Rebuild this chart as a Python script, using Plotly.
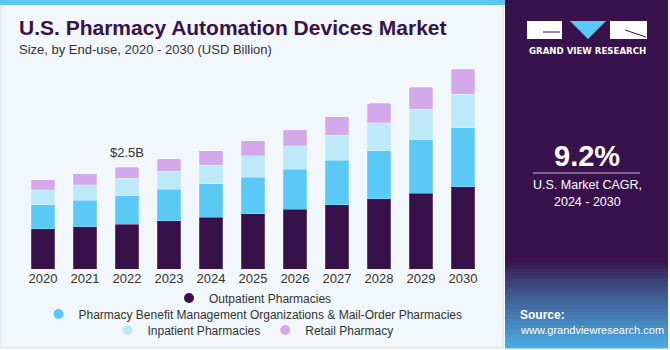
import plotly.graph_objects as go

years = ["2020", "2021", "2022", "2023", "2024", "2025", "2026", "2027", "2028", "2029", "2030"]
outpatient = [0.99, 1.03, 1.10, 1.18, 1.27, 1.36, 1.47, 1.58, 1.72, 1.86, 2.01]
pbm = [0.59, 0.66, 0.70, 0.77, 0.82, 0.89, 0.98, 1.08, 1.18, 1.31, 1.45]
inpatient = [0.36, 0.38, 0.42, 0.45, 0.45, 0.52, 0.57, 0.62, 0.68, 0.75, 0.82]
retail = [0.25, 0.27, 0.28, 0.30, 0.36, 0.37, 0.39, 0.45, 0.48, 0.54, 0.62]
series_names = ["Outpatient Pharmacies",
                "Pharmacy Benefit Management Organizations & Mail-Order Pharmacies",
                "Inpatient Pharmacies", "Retail Pharmacy"]
colors = ["#37114A", "#5BC9F5", "#BEE9F9", "#D3A9EB"]
callout_year = "2022"
callout_text = "$2.5B"

W, H = 670, 350
ML, MR, MT, MB = 22, 186, 65, 81
PW, PH = W - ML - MR, H - MT - MB
FONT = "Liberation Sans"


def px(x):
    return (x - ML) / PW


def py(y):
    return (H - MB - y) / PH


fig = go.Figure()
series = [outpatient, pbm, inpatient, retail]
for name, vals, col in zip(series_names, series, colors):
    fig.add_trace(go.Bar(x=years, y=vals, name=name, marker_color=col,
                         marker_line_width=0.6, marker_line_color="rgba(255,255,255,0.35)",
                         showlegend=False, hoverinfo="skip"))

legend_ids = ["legend", "legend2", "legend3", "legend3"]
for name, col, lg in zip(series_names, colors, legend_ids):
    fig.add_trace(go.Scatter(x=[years[0]], y=[None], mode="markers", name=name,
                             marker=dict(symbol="circle", size=10, color=col),
                             legend=lg, showlegend=True, hoverinfo="skip"))

totals = [sum(v) for v in zip(*series)]
ci = years.index(callout_year)
fig.add_annotation(x=ci, y=totals[ci], xref="x", yref="y", text=callout_text, showarrow=False,
                   yanchor="bottom", yshift=5, font=dict(family=FONT, size=13, color="#333333"))

shapes = []
# left panel
shapes.append(dict(type="rect", xref="paper", yref="paper", x0=px(1), x1=px(503), y0=py(1), y1=py(348),
                   fillcolor="#F2F7FB", line=dict(color="#D6DDE3", width=1), layer="below"))
shapes.append(dict(type="rect", xref="paper", yref="paper", x0=px(0), x1=px(506), y0=py(0), y1=py(5),
                   fillcolor="#5BC6EF", line=dict(width=0), layer="below"))
# right panel
shapes.append(dict(type="rect", xref="paper", yref="paper", x0=px(505), x1=px(668), y0=py(0), y1=py(348),
                   fillcolor="#38124A", line=dict(width=0), layer="below"))
# gradient bottom
c0 = (0x38, 0x12, 0x4A)
c1 = (0x4A, 0xAE, 0xE4)
n = 26
y_start, y_end = 262, 348
for i in range(n):
    t = (i + 0.5) / n
    tt = t ** 0.8
    c = tuple(int(c0[k] + (c1[k] - c0[k]) * tt) for k in range(3))
    ya = y_start + (y_end - y_start) * i / n
    yb = y_start + (y_end - y_start) * (i + 1) / n + 0.5
    shapes.append(dict(type="rect", xref="paper", yref="paper", x0=px(505), x1=px(668), y0=py(ya), y1=py(yb),
                       fillcolor="rgb(%d,%d,%d)" % c, line=dict(width=0), layer="below"))
# logo
shapes.append(dict(type="rect", xref="paper", yref="paper", x0=px(527), x1=px(562), y0=py(21), y1=py(39),
                   fillcolor="white", line=dict(width=0)))
shapes.append(dict(type="path", xref="paper", yref="paper",
                   path="M %f %f L %f %f L %f %f Z" % (px(570), py(21), px(606), py(21), px(588), py(39)),
                   fillcolor="#5BC9F5", line=dict(width=0)))
shapes.append(dict(type="rect", xref="paper", yref="paper", x0=px(610), x1=px(647), y0=py(21), y1=py(39),
                   fillcolor="white", line=dict(width=0)))
shapes.append(dict(type="line", xref="paper", yref="paper", x0=px(543), x1=px(560), y0=py(32), y1=py(32),
                   line=dict(color="#38124A", width=1)))
shapes.append(dict(type="line", xref="paper", yref="paper", x0=px(625), x1=px(646), y0=py(30), y1=py(37),
                   line=dict(color="#38124A", width=1)))
# CAGR divider
shapes.append(dict(type="line", xref="paper", yref="paper", x0=px(533), x1=px(640), y0=py(173), y1=py(173),
                   line=dict(color="#C9B8D6", width=1.2)))

ann = [
    dict(x=px(17), y=py(28), text="<b>U.S. Pharmacy Automation Devices Market</b>", xanchor="left",
         yanchor="middle", font=dict(family=FONT, size=21, color="#38124A")),
    dict(x=px(17), y=py(49), text="Size, by End-use, 2020 - 2030 (USD Billion)", xanchor="left",
         yanchor="middle", font=dict(family=FONT, size=13, color="#333333")),
    dict(x=px(587), y=py(51), text="<b>GRAND VIEW RESEARCH</b>", xanchor="center", yanchor="middle",
         font=dict(family="DejaVu Sans", size=8.6, color="white")),
    dict(x=px(587), y=py(156), text="<b>9.2%</b>", xanchor="center", yanchor="middle",
         font=dict(family=FONT, size=29, color="white")),
    dict(x=px(587), y=py(185), text="U.S. Market CAGR,", xanchor="center", yanchor="middle",
         font=dict(family=FONT, size=12.5, color="white")),
    dict(x=px(587), y=py(202), text="2024 - 2030", xanchor="center", yanchor="middle",
         font=dict(family=FONT, size=12.5, color="white")),
    dict(x=px(518), y=py(315), text="<b>Source:</b>", xanchor="left", yanchor="middle",
         font=dict(family=FONT, size=12, color="white")),
    dict(x=px(518), y=py(330), text="www.grandviewresearch.com", xanchor="left", yanchor="middle",
         font=dict(family=FONT, size=11, color="white")),
]
for a in ann:
    a.update(xref="paper", yref="paper", showarrow=False)
    fig.add_annotation(**a)

leg_common = dict(orientation="h", xanchor="center", yanchor="middle", x=0.5,
                  bgcolor="rgba(0,0,0,0)", font=dict(family=FONT, size=12, color="#333333"),
                  itemclick=False, itemdoubleclick=False)

fig.update_layout(
    width=W, height=H,
    margin=dict(l=ML, r=MR, t=MT, b=MB, autoexpand=False),
    paper_bgcolor="white", plot_bgcolor="rgba(0,0,0,0)",
    barmode="stack", bargap=0.43, barcornerradius=2,
    shapes=shapes,
    legend=dict(y=py(298), **leg_common),
    legend2=dict(y=py(314), **leg_common),
    legend3=dict(y=py(330), **leg_common),
    xaxis=dict(type="category", categoryorder="array", categoryarray=years, range=[-0.5, len(years) - 0.5],
               showgrid=False, showline=False, zeroline=False, ticks="",
               tickfont=dict(family=FONT, size=13, color="#333333"), fixedrange=True),
    yaxis=dict(range=[0, 5], visible=False, showgrid=False, fixedrange=True),
    font=dict(family=FONT),
)

fig.write_html("out.html", config={"displayModeBar": False})
